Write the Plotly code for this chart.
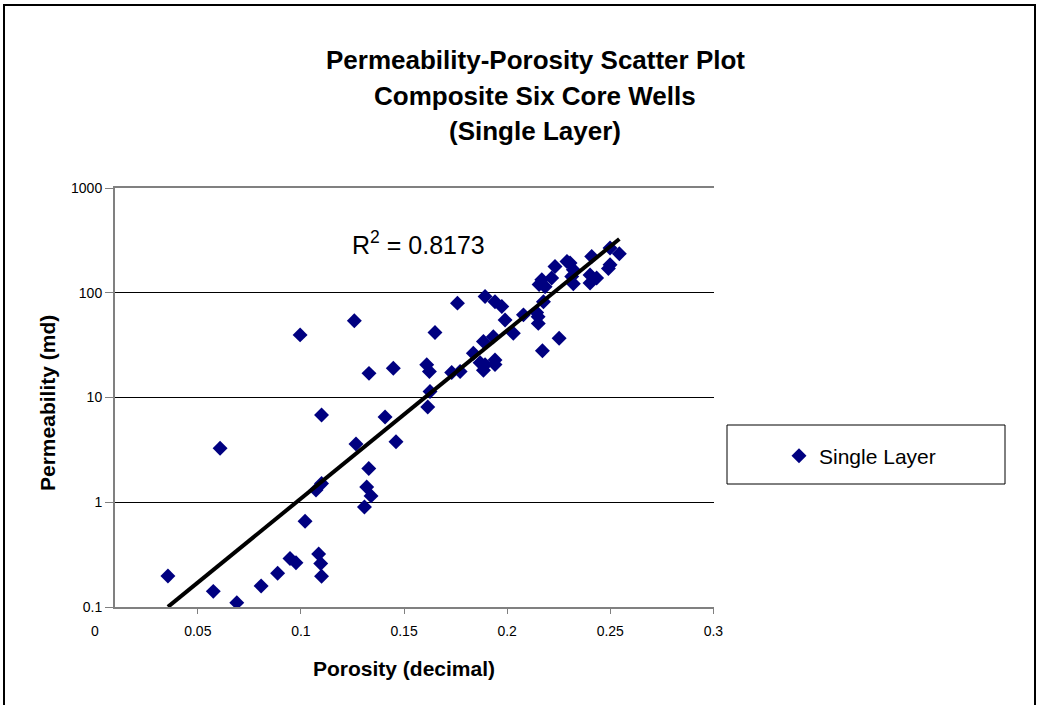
import numpy as np
import plotly.graph_objects as go

# ---- data ----
porosity = [
    0.0355, 0.0575, 0.0608, 0.0689, 0.0807, 0.0887, 0.0947, 0.0976, 0.0996, 0.1020,
    0.1073, 0.1100, 0.1086, 0.1096, 0.1100, 0.1100, 0.1259, 0.1267, 0.1308, 0.1319,
    0.1340, 0.1329, 0.1330, 0.1408, 0.1448, 0.1461, 0.1610, 0.1623, 0.1626, 0.1615,
    0.1650, 0.1731, 0.1759, 0.1772, 0.1836, 0.1869, 0.1893, 0.1885, 0.1893, 0.1933,
    0.1941, 0.1941, 0.1941, 0.1974, 0.1990, 0.2030, 0.2079, 0.2143, 0.2151, 0.2171,
    0.2252, 0.2168, 0.2155, 0.2184, 0.2176, 0.2216, 0.2232, 0.2290, 0.2305, 0.2321,
    0.2313, 0.2321, 0.2402, 0.2434, 0.2402, 0.2410, 0.2499, 0.2544, 0.2499, 0.2491,
    0.1885, 0.2150,
]
permeability = [
    0.198, 0.141, 3.27, 0.110, 0.159, 0.21, 0.29, 0.265, 39.6, 0.66,
    1.31, 1.51, 0.32, 0.26, 0.197, 6.8, 54.0, 3.59, 0.90, 1.40,
    1.15, 2.10, 17.0, 6.5, 19.0, 3.78, 20.5, 17.7, 11.4, 8.1,
    41.7, 17.3, 79.6, 17.7, 26.5, 21.5, 20.5, 34.2, 92.0, 38.1,
    22.8, 20.7, 82.0, 73.8, 55.0, 41.0, 61.5, 64.7, 51.0, 28.0,
    36.8, 133.0, 120.0, 114.0, 82.0, 138.0, 178.0, 199.0, 192.0, 166.0,
    143.0, 122.0, 148.0, 138.0, 124.0, 222.0, 267.0, 236.0, 185.0, 170.0,
    18.2, 59.0,
]
series_name = "Single Layer"
r2_label = "R<sup>2</sup> = 0.8173"
title_lines = ["Permeability-Porosity Scatter Plot", "Composite Six Core Wells", "(Single Layer)"]
x_ticks = [0.05, 0.1, 0.15, 0.2, 0.25, 0.3]
x_tick_text = ["0.05", "0.1", "0.15", "0.2", "0.25", "0.3"]
x_origin_label = "0"
y_ticks = [0.1, 1, 10, 100, 1000]
y_tick_text = ["0.1", "1", "10", "100", "1000"]

# exponential trendline (least squares on log10 k)
px = np.array(porosity)
slope, intercept = np.polyfit(px, np.log10(permeability), 1)
fit_x = np.array([px.min(), px.max()])
fit_y = 10 ** (slope * fit_x + intercept)

FONT = "Liberation Sans, Arial, sans-serif"
W, H = 1039, 705
L, R, T, B = 115, 325, 188, 98
pw, ph = W - L - R, H - T - B


def pxx(x):
    return (x - L) / pw


def pxy(y):
    return (H - B - y) / ph


fig = go.Figure()
fig.add_trace(go.Scatter(
    x=porosity, y=permeability, mode="markers", name=series_name,
    marker=dict(symbol="diamond", size=11.5, color="#000080", line=dict(width=0)),
))
fig.add_trace(go.Scatter(
    x=fit_x, y=fit_y, mode="lines", showlegend=False, hoverinfo="skip",
    line=dict(color="black", width=4),
))

annotations = []
for txt, yc in zip(title_lines, [60, 96, 131]):
    annotations.append(dict(text="<b>%s</b>" % txt, xref="paper", yref="paper",
                            x=pxx(535), y=pxy(yc), xanchor="center", yanchor="middle",
                            showarrow=False, font=dict(family=FONT, size=26, color="black")))
annotations.append(dict(text=r2_label, xref="paper", yref="paper", x=pxx(350), y=pxy(243),
                        xanchor="left", yanchor="middle", showarrow=False,
                        font=dict(family=FONT, size=25, color="black")))
annotations.append(dict(text="<b>Porosity (decimal)</b>", xref="paper", yref="paper",
                        x=pxx(404), y=pxy(668), xanchor="center", yanchor="middle",
                        showarrow=False, font=dict(family=FONT, size=21, color="black")))
annotations.append(dict(text="<b>Permeability (md)</b>", xref="paper", yref="paper",
                        x=pxx(47), y=pxy(403), xanchor="center", yanchor="middle",
                        textangle=-90, showarrow=False,
                        font=dict(family=FONT, size=21, color="black")))
annotations.append(dict(text=x_origin_label, xref="paper", yref="paper", x=pxx(95), y=pxy(631),
                        xanchor="center", yanchor="middle", showarrow=False,
                        font=dict(family=FONT, size=14, color="black")))

shapes = [
    # outer chart frame (bottom edge lies just below the visible page)
    dict(type="rect", xref="paper", yref="paper", x0=pxx(4), x1=pxx(1035), y0=pxy(712), y1=pxy(5),
         line=dict(color="black", width=2), fillcolor="rgba(0,0,0,0)", layer="below"),
    # legend box
    dict(type="rect", xref="paper", yref="paper", x0=pxx(727), x1=pxx(1005), y0=pxy(484), y1=pxy(425),
         line=dict(color="black", width=1), fillcolor="rgba(0,0,0,0)"),
]

fig.update_layout(
    width=W, height=H,
    margin=dict(l=L, r=R, t=T, b=B),
    paper_bgcolor="white", plot_bgcolor="white",
    font=dict(family=FONT, color="black"),
    showlegend=True,
    legend=dict(x=pxx(779), y=pxy(456), xanchor="left", yanchor="middle",
                bgcolor="rgba(0,0,0,0)", borderwidth=0,
                font=dict(family=FONT, size=21, color="black")),
    annotations=annotations,
    shapes=shapes,
    xaxis=dict(range=[0.00984, 0.3003], tickvals=x_ticks, ticktext=x_tick_text,
               showgrid=False, zeroline=False, showline=True, linecolor="#808080", linewidth=2,
               mirror=True, ticks="outside", ticklen=5, tickcolor="#808080", tickwidth=1,
               ticklabelstandoff=5,
               tickfont=dict(family=FONT, size=14, color="black")),
    yaxis=dict(type="log", range=[-1, 3], tickvals=y_ticks, ticktext=y_tick_text,
               showgrid=True, gridcolor="black", gridwidth=1, zeroline=False,
               showline=True, linecolor="#808080", linewidth=2,
               ticks="outside", ticklen=8, tickcolor="#808080", tickwidth=1,
               tickfont=dict(family=FONT, size=14, color="black")),
)

fig.write_html("out.html")
